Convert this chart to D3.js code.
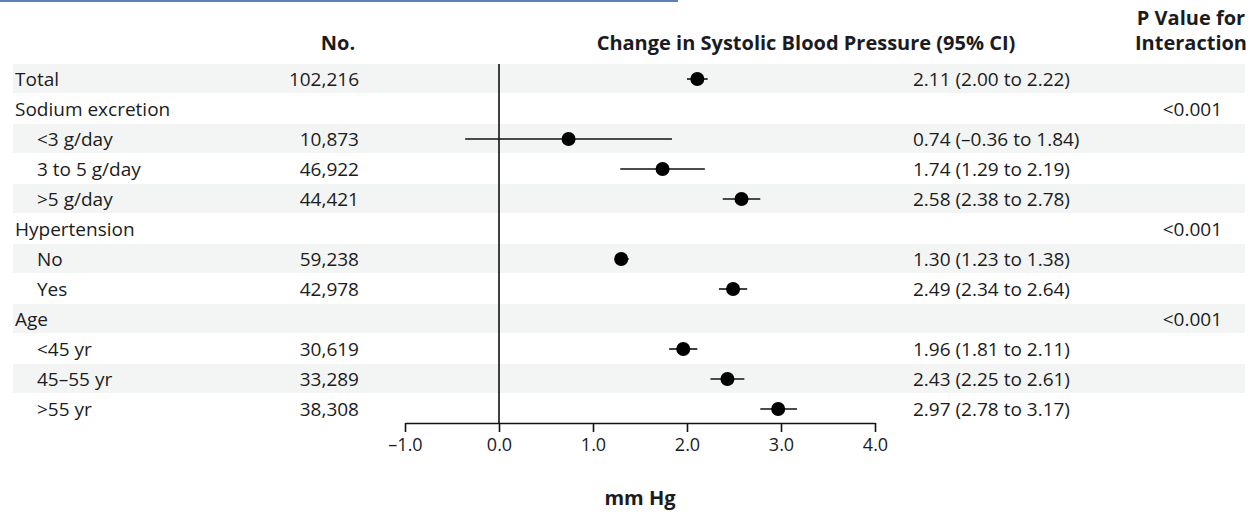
<!DOCTYPE html>
<html>
<head>
<meta charset="utf-8">
<script src="https://cdn.jsdelivr.net/npm/d3@7"></script>
<style>
  body { margin: 0; background: #fff; }
  svg text { font-family: "Open Sans", "Noto Sans", sans-serif; fill: #1b1b22; }
</style>
</head>
<body>
<svg id="chart" width="1250" height="512"></svg>
<script>
// rows of the forest plot
var labels = ["Total", "Sodium excretion", "<3 g/day", "3 to 5 g/day", ">5 g/day",
              "Hypertension", "No", "Yes", "Age", "<45 yr", "45\u201355 yr", ">55 yr"];
var indent = [0, 0, 1, 1, 1, 0, 1, 1, 0, 1, 1, 1];
var counts = ["102,216", "", "10,873", "46,922", "44,421", "", "59,238", "42,978", "", "30,619", "33,289", "38,308"];
var est = [2.11, null, 0.74, 1.74, 2.58, null, 1.30, 2.49, null, 1.96, 2.43, 2.97];
var lo  = [2.00, null, -0.36, 1.29, 2.38, null, 1.23, 2.34, null, 1.81, 2.25, 2.78];
var hi  = [2.22, null, 1.84, 2.19, 2.78, null, 1.38, 2.64, null, 2.11, 2.61, 3.17];
var ciText = ["2.11 (2.00 to 2.22)", "", "0.74 (\u20130.36 to 1.84)", "1.74 (1.29 to 2.19)",
              "2.58 (2.38 to 2.78)", "", "1.30 (1.23 to 1.38)", "2.49 (2.34 to 2.64)", "",
              "1.96 (1.81 to 2.11)", "2.43 (2.25 to 2.61)", "2.97 (2.78 to 3.17)"];
var pvals = ["", "<0.001", "", "", "", "<0.001", "", "", "<0.001", "", "", ""];
var ticks = [-1, 0, 1, 2, 3, 4];

var svg = d3.select('#chart');
var fs = 19, hfs = 20;

var x = d3.scaleLinear().domain([-1, 4]).range([405, 875]);
var y = d3.scaleBand().domain(d3.range(labels.length)).range([64, 424]);

var rows = labels.map(function(l, i) {
    return {label: l, indent: indent[i], n: counts[i], est: est[i], lo: lo[i], hi: hi[i],
            ci: ciText[i], p: pvals[i], i: i};
});

// top rule
svg.append('line')
    .attr('x1', 0).attr('x2', 678).attr('y1', 1).attr('y2', 1)
    .style('stroke', '#5a82b8').style('stroke-width', 2);

// shaded bands on alternate rows
svg.selectAll('rect.band')
    .data(rows.filter(function(d) { return d.i % 2 == 0; }))
    .enter().append('rect')
    .classed('band', true)
    .attr('x', 13).attr('width', 1232)
    .attr('y', function(d) { return y(d.i); })
    .attr('height', y.bandwidth() - 1)
    .style('fill', '#f3f5f4');

// headers
var head = svg.append('g').style('font-weight', 'bold').style('font-size', hfs + 'px');
head.append('text').attr('x', 338).attr('y', 50).attr('text-anchor', 'middle').text('No.');
head.append('text').attr('x', 806).attr('y', 50).attr('text-anchor', 'middle')
    .text('Change in Systolic Blood Pressure (95% CI)');
head.append('text').attr('x', 1191).attr('y', 25).attr('text-anchor', 'middle').text('P Value for');
head.append('text').attr('x', 1191).attr('y', 50).attr('text-anchor', 'middle').text('Interaction');

// zero line
svg.append('line')
    .attr('x1', x(0)).attr('x2', x(0))
    .attr('y1', 64).attr('y2', 423)
    .style('stroke', '#111').style('stroke-width', 1.6);

var g = svg.selectAll('g.row')
    .data(rows)
    .enter().append('g')
    .classed('row', true)
    .attr('transform', function(d) { return 'translate(0,' + (y(d.i) + y.bandwidth() / 2) + ')'; })
    .style('font-size', fs + 'px');

g.append('text')
    .attr('x', function(d) { return d.indent ? 37 : 15; })
    .attr('dy', '0.35em')
    .text(function(d) { return d.label; });

g.append('text')
    .attr('x', 359).attr('dy', '0.35em')
    .attr('text-anchor', 'end')
    .text(function(d) { return d.n; });

g.append('text')
    .attr('x', 913).attr('dy', '0.35em')
    .text(function(d) { return d.ci; });

g.append('text')
    .attr('x', 1222).attr('dy', '0.35em')
    .attr('text-anchor', 'end')
    .text(function(d) { return d.p; });

var pts = g.filter(function(d) { return d.est != null; });
pts.append('line')
    .attr('x1', function(d) { return x(d.lo); })
    .attr('x2', function(d) { return x(d.hi); })
    .style('stroke', '#111').style('stroke-width', 1.6);
pts.append('circle')
    .attr('cx', function(d) { return x(d.est); })
    .attr('r', 7)
    .style('fill', '#000');

// axis
var axis = d3.axisBottom(x)
    .tickValues(ticks)
    .tickSize(9)
    .tickSizeOuter(0)
    .tickFormat(function(d) { return (d < 0 ? '\u2013' : '') + Math.abs(d).toFixed(1); });

var ax = svg.append('g')
    .attr('transform', 'translate(0,423)')
    .call(axis);
ax.select('.domain').style('stroke', '#111').style('stroke-width', 1.6);
ax.selectAll('.tick line').style('stroke', '#111').style('stroke-width', 1.6);
ax.selectAll('.tick text')
    .attr('y', 15)
    .style('font-size', '18px')
    .style('font-family', '"Open Sans", sans-serif')
    .style('fill', '#1b1b22');

svg.append('text')
    .attr('x', 640).attr('y', 505)
    .attr('text-anchor', 'middle')
    .style('font-weight', 'bold').style('font-size', hfs + 'px')
    .text('mm Hg');
</script>
</body>
</html>
